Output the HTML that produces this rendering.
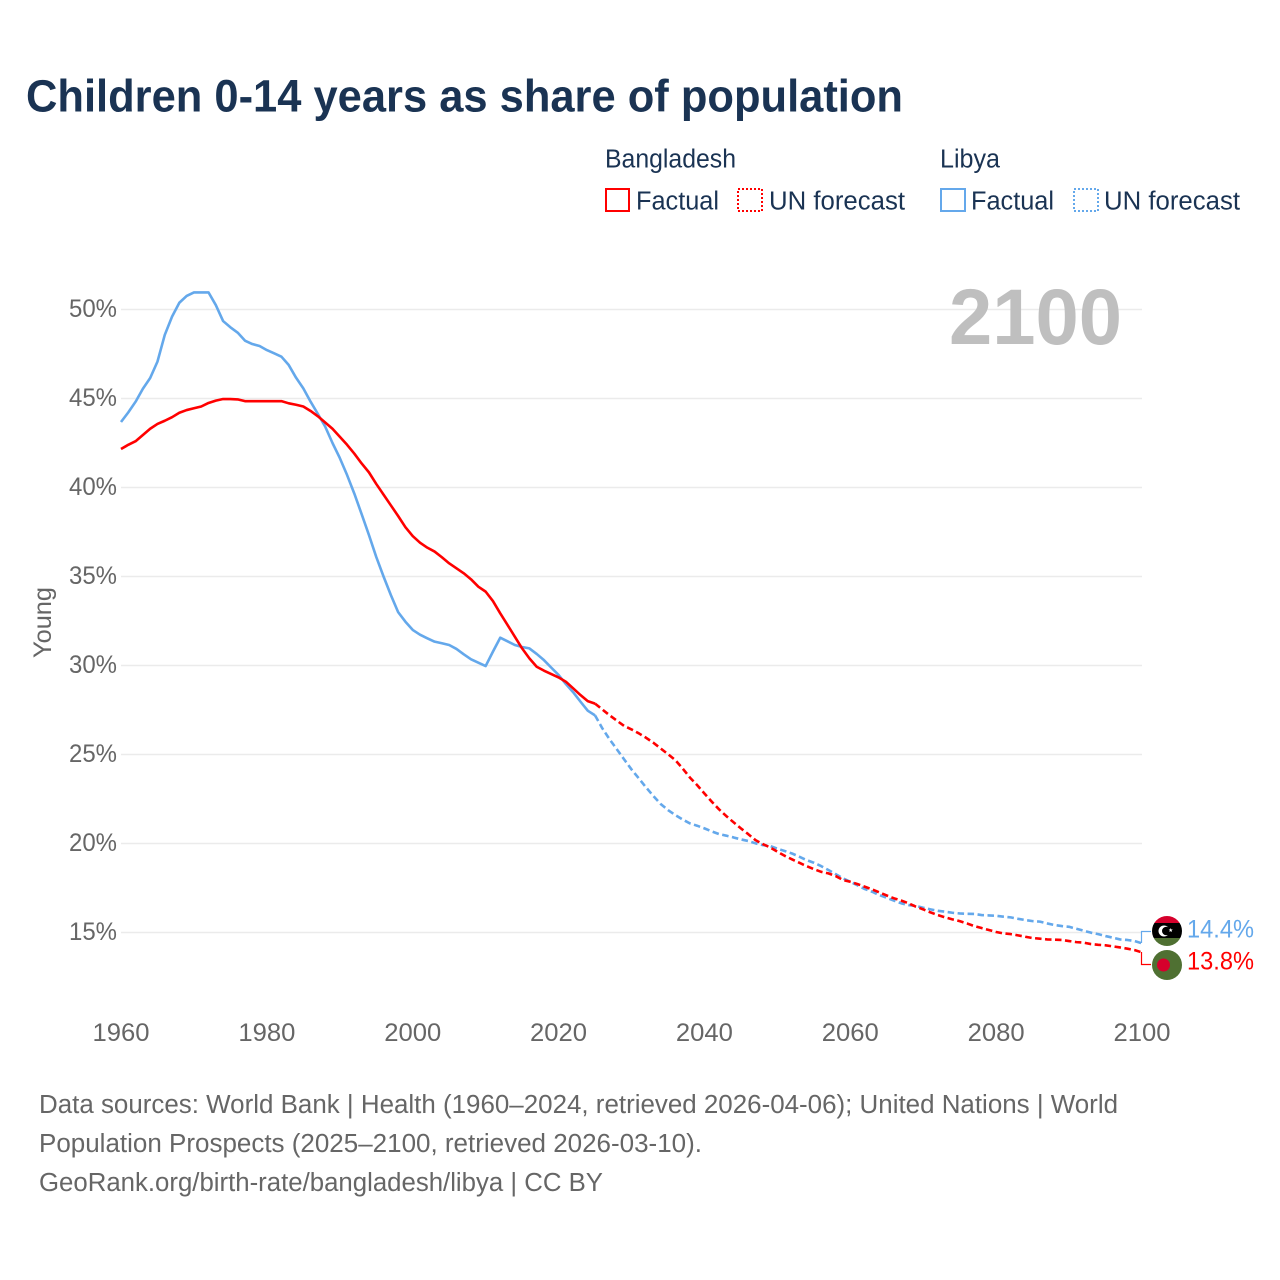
<!DOCTYPE html>
<html lang="en">
<head>
<meta charset="utf-8">
<title>Children 0-14 years as share of population</title>
<style>
html,body{margin:0;padding:0;background:#fff;width:1280px;height:1280px;overflow:hidden}
svg{display:block;font-family:"Liberation Sans",sans-serif}
</style>
</head>
<body>
<svg id="chart" xmlns="http://www.w3.org/2000/svg" width="1280" height="1280" viewBox="0 0 1280 1280">
  <rect width="1280" height="1280" fill="#ffffff"/>
  <text x="26" y="111.5" font-size="45" font-weight="700" fill="#1a3353" textLength="877" lengthAdjust="spacingAndGlyphs">Children 0-14 years as share of population</text>

  <g fill="#1a3353" font-size="25.5">
    <text x="605" y="167.5" textLength="131" lengthAdjust="spacingAndGlyphs">Bangladesh</text>
    <text x="940" y="167.5" textLength="60" lengthAdjust="spacingAndGlyphs">Libya</text>
    <rect x="606" y="189" width="23" height="22" fill="none" stroke="#ff0000" stroke-width="2"/>
    <text x="636" y="209.5" textLength="83" lengthAdjust="spacingAndGlyphs">Factual</text>
    <rect x="738" y="189" width="24" height="22" fill="none" stroke="#ff0000" stroke-width="2" stroke-dasharray="2 2"/>
    <text x="769" y="209.5" textLength="136" lengthAdjust="spacingAndGlyphs">UN forecast</text>
    <rect x="941" y="189" width="24" height="22" fill="none" stroke="#64a8eb" stroke-width="2"/>
    <text x="971" y="209.5" textLength="83" lengthAdjust="spacingAndGlyphs">Factual</text>
    <rect x="1074" y="189" width="24" height="22" fill="none" stroke="#64a8eb" stroke-width="2" stroke-dasharray="2 2"/>
    <text x="1104" y="209.5" textLength="136" lengthAdjust="spacingAndGlyphs">UN forecast</text>
  </g>

  <g id="grid"></g>
  <g id="y-axis"></g>
  <g id="x-axis"></g>
  <text transform="translate(51,622.5) rotate(-90)" text-anchor="middle" font-size="25" fill="#666666" textLength="71" lengthAdjust="spacingAndGlyphs">Young</text>
  <text x="949" y="344" font-size="79" font-weight="700" fill="#bfbfbf" textLength="173" lengthAdjust="spacingAndGlyphs">2100</text>

  <g id="series"></g>

  <g fill="none" stroke-width="1.2">
    <path d="M1141.5 943V931.5H1151" stroke="#64a8eb"/>
    <path d="M1141.5 952V964.5H1151" stroke="#ff0000"/>
  </g>

  <defs>
    <clipPath id="flag-clip-ly"><circle cx="1167" cy="931" r="15"/></clipPath>
    <clipPath id="flag-clip-bd"><circle cx="1167" cy="965" r="15"/></clipPath>
  </defs>
  <g clip-path="url(#flag-clip-ly)">
    <rect x="1152" y="916" width="30" height="7" fill="#d6002c"/>
    <rect x="1152" y="923" width="30" height="15" fill="#000000"/>
    <rect x="1152" y="938" width="30" height="8" fill="#4f7032"/>
    <circle cx="1164" cy="931" r="5.5" fill="#ffffff"/>
    <circle cx="1166.3" cy="931" r="4.3" fill="#000000"/>
    <polygon points="1170.7,928 1171.3,929.5 1172.8,929.5 1171.6,930.5 1172,932 1170.7,931.1 1169.4,932 1169.8,930.5 1168.6,929.5 1170.1,929.5" fill="#ffffff"/>
  </g>
  <g clip-path="url(#flag-clip-bd)">
    <rect x="1152" y="950" width="30" height="30" fill="#4f7032"/>
    <circle cx="1163.5" cy="965" r="6.5" fill="#d6002c"/>
  </g>

  <text x="1187" y="937.5" font-size="25" fill="#64a8eb" textLength="67" lengthAdjust="spacingAndGlyphs">14.4%</text>
  <text x="1187" y="969.5" font-size="25" fill="#ff0000" textLength="67" lengthAdjust="spacingAndGlyphs">13.8%</text>

  <g font-size="25.5" fill="#666666">
    <text x="39" y="1113" textLength="1079" lengthAdjust="spacingAndGlyphs">Data sources: World Bank | Health (1960–2024, retrieved 2026-04-06); United Nations | World</text>
    <text x="39" y="1152" textLength="663" lengthAdjust="spacingAndGlyphs">Population Prospects (2025–2100, retrieved 2026-03-10).</text>
    <text x="39" y="1191" textLength="564" lengthAdjust="spacingAndGlyphs">GeoRank.org/birth-rate/bangladesh/libya | CC BY</text>
  </g>
</svg>

<script>
const yTickValues = [50, 45, 40, 35, 30, 25, 20, 15];
const xTickValues = [1960, 1980, 2000, 2020, 2040, 2060, 2080, 2100];
const factualStartYear = 1960;
const forecastStartYear = 2025;

const bangladeshFactual = [
  42.16,42.4,42.6,42.95,43.3,43.57,43.75,43.95,44.2,44.35,
  44.45,44.55,44.75,44.88,44.97,44.97,44.95,44.85,44.85,44.85,
  44.85,44.85,44.85,44.73,44.65,44.55,44.3,44.0,43.65,43.3,
  42.85,42.4,41.9,41.35,40.85,40.2,39.6,39.0,38.4,37.77,
  37.27,36.9,36.62,36.4,36.08,35.74,35.46,35.18,34.84,34.43,
  34.15,33.62,32.93,32.28,31.62,30.96,30.4,29.93,29.71,29.52,
  29.33,29.09,28.72,28.34,28.0,27.86
];
const libyaFactual = [
  43.68,44.22,44.82,45.55,46.15,47.07,48.57,49.6,50.38,50.76,
  50.96,50.96,50.96,50.25,49.35,49.0,48.7,48.25,48.06,47.95,
  47.72,47.54,47.35,46.88,46.17,45.57,44.82,44.13,43.42,42.5,
  41.66,40.7,39.65,38.5,37.33,36.1,35.0,33.96,33.0,32.46,
  32.0,31.73,31.53,31.34,31.25,31.15,30.93,30.63,30.35,30.16,
  29.97,30.78,31.56,31.36,31.15,31.04,30.96,30.65,30.3,29.88,
  29.47,28.96,28.5,27.97,27.46,27.2
];
const bangladeshForecast = [
  27.86,27.53,27.2,26.9,26.6,26.41,26.19,25.94,25.66,25.34,
  25.02,24.69,24.22,23.71,23.28,22.81,22.35,21.92,21.54,21.19,
  20.85,20.53,20.19,19.97,19.78,19.54,19.31,19.11,18.92,18.73,
  18.56,18.41,18.32,18.17,17.95,17.85,17.72,17.57,17.42,17.25,
  17.08,16.92,16.79,16.64,16.45,16.3,16.13,15.98,15.85,15.74,
  15.64,15.51,15.36,15.25,15.14,15.03,14.95,14.91,14.84,14.76,
  14.69,14.65,14.61,14.6,14.58,14.52,14.46,14.43,14.35,14.31,
  14.28,14.22,14.16,14.09,14.01,13.88
];
const libyaForecast = [
  27.2,26.47,25.85,25.29,24.72,24.16,23.66,23.15,22.67,22.22,
  21.88,21.6,21.35,21.13,21.0,20.85,20.68,20.53,20.44,20.34,
  20.23,20.14,20.01,19.91,19.86,19.71,19.58,19.44,19.26,19.07,
  18.92,18.73,18.51,18.28,18.04,17.85,17.65,17.44,17.29,17.1,
  16.95,16.79,16.64,16.54,16.49,16.39,16.3,16.22,16.17,16.11,
  16.07,16.05,16.04,15.98,15.96,15.94,15.89,15.85,15.77,15.7,
  15.64,15.61,15.51,15.42,15.36,15.32,15.21,15.1,14.99,14.91,
  14.8,14.71,14.61,14.58,14.52,14.39
];

function xScale(year) { return 121 + (year - 1960) * (1142 - 121) / 140; }
function yScale(value) { return 309.5 + (50 - value) * (932.5 - 309.5) / 35; }

const NS = 'http://www.w3.org/2000/svg';
const gridLayer = document.getElementById('grid');
const yAxisLayer = document.getElementById('y-axis');
const xAxisLayer = document.getElementById('x-axis');
const seriesLayer = document.getElementById('series');

yTickValues.forEach(function (tick) {
  const line = document.createElementNS(NS, 'line');
  
  
  line.setAttribute('x1', xScale(1960));
  line.setAttribute('x2', xScale(2100));
  line.setAttribute('y1', yScale(tick));
  line.setAttribute('y2', yScale(tick));
  line.setAttribute('stroke', '#ebebeb');
  line.setAttribute('stroke-width', '1.5');
  gridLayer.appendChild(line);

  const label = document.createElementNS(NS, 'text');
  
  
  label.setAttribute('x', 69);
  label.setAttribute('y', yScale(tick) + 7.5);
  label.setAttribute('font-size', '25');
  label.setAttribute('fill', '#666666');
  label.setAttribute('textLength', '48');
  label.setAttribute('lengthAdjust', 'spacingAndGlyphs');
  label.textContent = tick + '%';
  yAxisLayer.appendChild(label);
});

xTickValues.forEach(function (tick) {
  const label = document.createElementNS(NS, 'text');
  
  
  label.setAttribute('x', xScale(tick));
  label.setAttribute('y', 1041);
  label.setAttribute('font-size', '25');
  label.setAttribute('fill', '#666666');
  label.setAttribute('text-anchor', 'middle');
  label.setAttribute('textLength', '57');
  label.setAttribute('lengthAdjust', 'spacingAndGlyphs');
  label.textContent = tick;
  xAxisLayer.appendChild(label);
});

function linePath(values, startYear) {
  return values.map(function (value, i) {
    return (i ? 'L' : 'M') + xScale(startYear + i).toFixed(2) + ' ' + yScale(value).toFixed(2);
  }).join('');
}

function drawSeries(name, values, startYear, color, dash) {
  const path = document.createElementNS(NS, 'path');
  
  
  path.setAttribute('d', linePath(values, startYear));
  path.setAttribute('fill', 'none');
  path.setAttribute('stroke', color);
  path.setAttribute('stroke-width', '2.6');
  path.setAttribute('stroke-linejoin', 'round');
  if (dash) { path.setAttribute('stroke-dasharray', dash); }
  seriesLayer.appendChild(path);
}

drawSeries('line-libya-factual', libyaFactual, factualStartYear, '#64a8eb', null);
drawSeries('line-libya-forecast', libyaForecast, forecastStartYear, '#64a8eb', '6.5 3.5');
drawSeries('line-bangladesh-factual', bangladeshFactual, factualStartYear, '#ff0000', null);
drawSeries('line-bangladesh-forecast', bangladeshForecast, forecastStartYear, '#ff0000', '6.5 3.5');
</script>
</body>
</html>
